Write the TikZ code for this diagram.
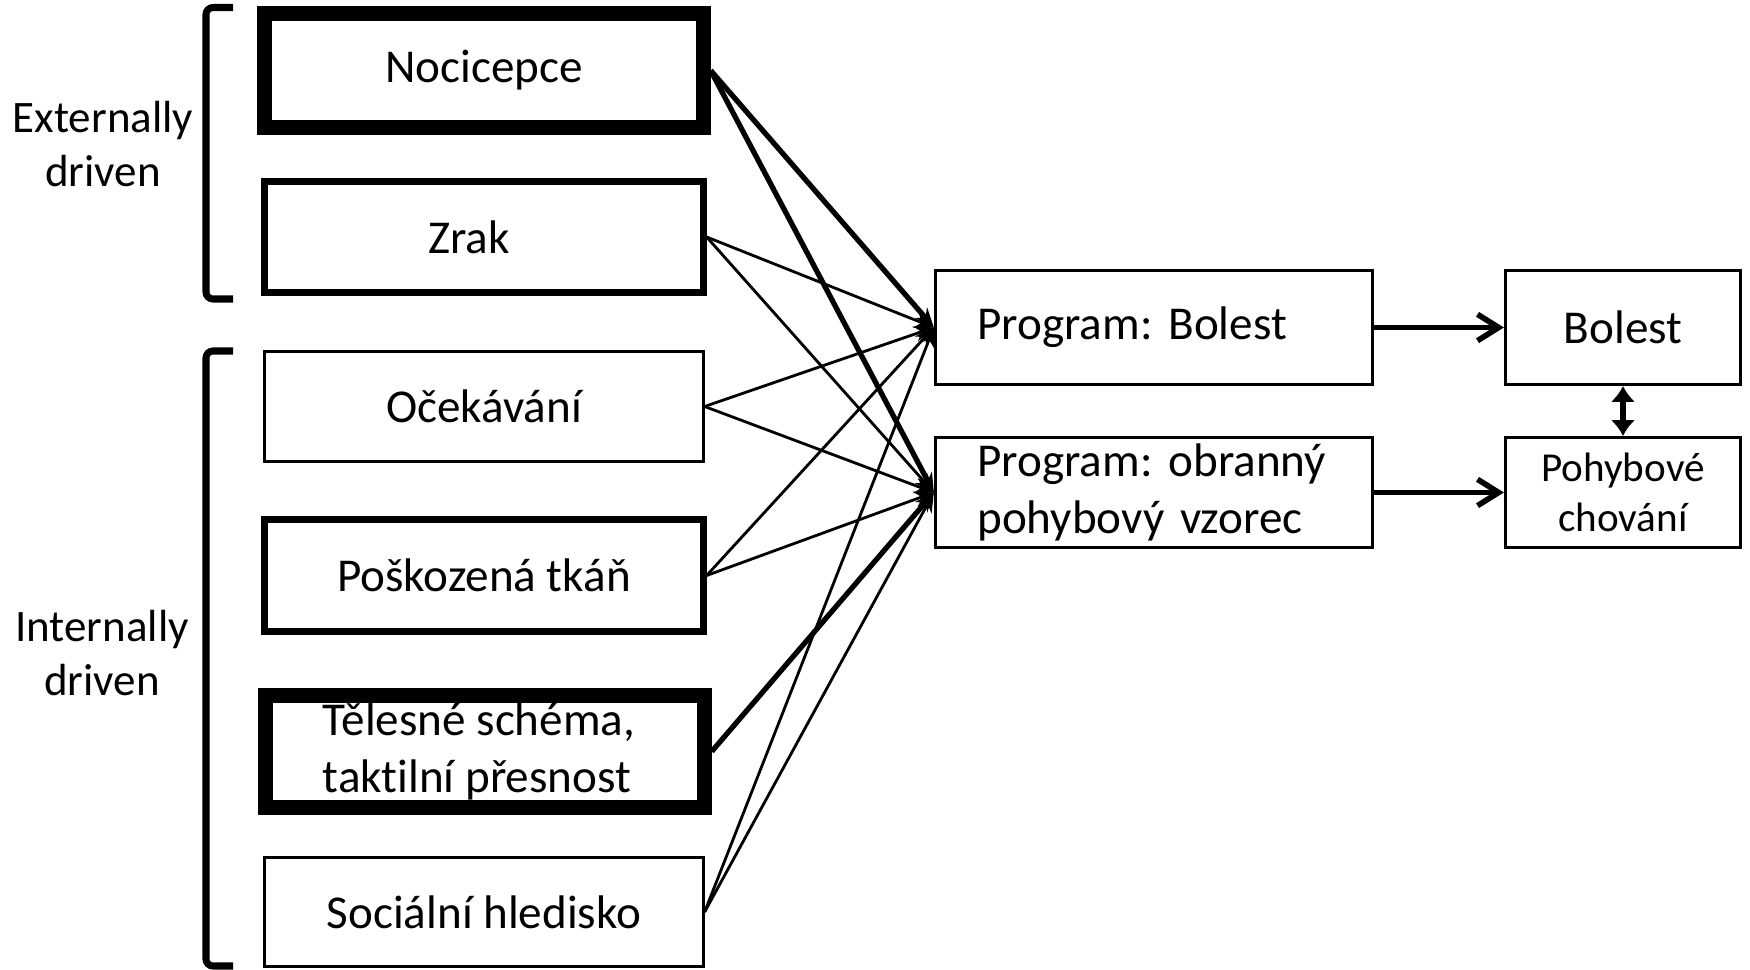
\documentclass[tikz,border=0pt]{standalone}
\usepackage{fontspec}
\setmainfont{Carlito}[Ligatures=NoCommon]
\usetikzlibrary{arrows.meta}

\tikzset{
  box/.style={draw, line width=#1, minimum width=4.38cm, minimum height=1.12cm,
    inner sep=0pt, align=center, font=\fontsize{13.4}{16.2}\selectfont},
  box/.default=0.85pt,
  prog/.style={box, minimum width=4.37cm, text width=3.53cm, align=left},
  outbox/.style={box, minimum width=2.35cm},
  lbl/.style={align=center, font=\fontsize{12.8}{15.2}\selectfont},
  conn/.style={line width=0.8pt, -{Stealth[length=5.5pt,width=4.5pt]}},
  boldconn/.style={conn, line width=1.5pt},
  flow/.style={line width=1.6pt, -{Straight Barb[length=6pt,width=7.5pt]}},
  brk/.style={line width=2pt, rounded corners=2pt},
}

\begin{document}
\frenchspacing
\begin{tikzpicture}[x=0.01cm, y=-0.01cm]
  \useasboundingbox (0,0) rectangle (1750,970);

  % inputs
  \node[box=4.3pt, minimum height=1.14cm] (noci) at (484,70.5) {Nocicepce};
  \node[box=2pt, minimum height=1.11cm] (zrak) at (484,237) {\hspace*{-0.3cm}Zrak};
  \node[box, minimum height=1.1cm] (ocek) at (484,406.5) {Očekávání};
  \node[box=2pt] (posk) at (484,575.5) {Poškozená tkáň};
  \node[box=4.3pt, align=left] (teles) at (485,751.5) {\hspace*{-0.12cm}Tělesné schéma,\\\hspace*{-0.12cm}taktilní přesnost};
  \node[box, minimum height=1.09cm] (soc) at (484,912) {Sociální hledisko};

  % groups
  \draw[brk] (233,7.5) -- (206,7.5) -- (206,299) -- (233,299);
  \draw[brk] (233,351) -- (206,351) -- (206,966) -- (233,966);
  \node[lbl] (ext) at (103,144) {Externally\\driven};
  \node[lbl] (int) at (102,653) {Internally\\driven};

  % programs and outputs
  \node[prog, minimum height=1.14cm] (pbol) at (1154,327.5) {Program: Bolest};
  \node[prog, minimum height=1.1cm] (pobr) at (1154,492.5) {Program: obranný\\pohybový vzorec};
  \node[outbox, minimum height=1.14cm] (bol) at (1623,327.5) {Bolest};
  \node[outbox, minimum height=1.1cm, font=\fontsize{11.7}{14.2}\selectfont] (pohyb) at (1623,492.5) {Pohybové\\chování};

  \foreach \s in {zrak, ocek, posk, soc}{
    \draw[conn] (\s.east) -- (pbol.west);
    \draw[conn] (\s.east) -- (pobr.west);
  }
  \draw[boldconn] (noci.east) -- (pbol.west);
  \draw[boldconn] (noci.east) -- (pobr.west);
  \draw[boldconn] (teles.east) -- (pobr.west);

  \draw[flow] (pbol) -- (bol);
  \draw[flow] (pobr) -- (pohyb);
  \draw[line width=1.8pt, {Latex[length=4.5pt,width=7pt]}-{Latex[length=4.5pt,width=7pt]}] (bol) -- (pohyb);
\end{tikzpicture}
\end{document}
